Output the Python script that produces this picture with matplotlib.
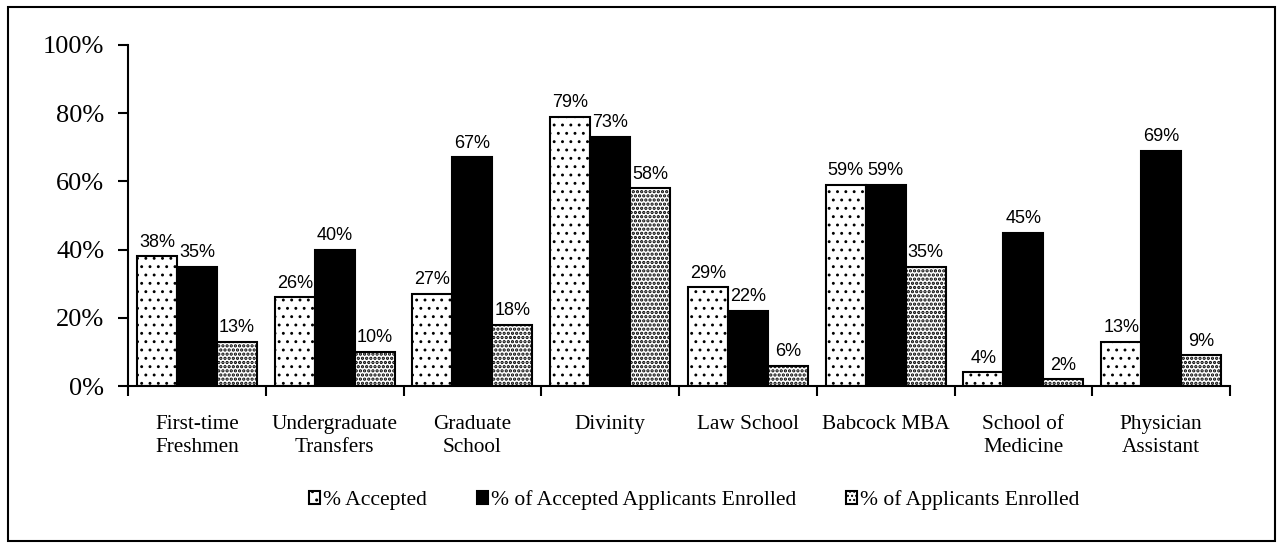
import matplotlib as mpl
import matplotlib.pyplot as plt
import numpy as np
from matplotlib.patches import Rectangle

categories = ['First-time\nFreshmen', 'Undergraduate\nTransfers', 'Graduate\nSchool', 'Divinity',
              'Law School', 'Babcock MBA', 'School of\nMedicine', 'Physician\nAssistant']
accepted = [38, 26, 27, 79, 29, 59, 4, 13]
accepted_enrolled = [35, 40, 67, 73, 22, 59, 45, 69]
applicants_enrolled = [13, 10, 18, 58, 6, 35, 2, 9]

serif = ['Liberation Serif', 'DejaVu Serif']
sans = ['Liberation Sans', 'DejaVu Sans']

fig = plt.figure(figsize=(12.83, 5.48), dpi=100)
ax = fig.add_axes([0.0998, 0.2956, 0.8589, 0.6224])

# outer border
fig.patches.append(Rectangle((0.006, 0.012), 0.988, 0.976, transform=fig.transFigure,
                             fill=False, edgecolor='black', linewidth=1.5))

x = np.arange(len(categories))
w = 0.29
with mpl.rc_context({'hatch.linewidth': 0.9}):
    b1 = ax.bar(x - w, [v / 100 for v in accepted], w, facecolor='white', edgecolor='black',
                hatch='..', linewidth=1.5, label='% Accepted')
b2 = ax.bar(x, [v / 100 for v in accepted_enrolled], w, facecolor='black', edgecolor='black',
            linewidth=1.5, label='% of Accepted Applicants Enrolled')
with mpl.rc_context({'hatch.linewidth': 1.6}):
    b3 = ax.bar(x + w, [v / 100 for v in applicants_enrolled], w, facecolor='white', edgecolor='black',
                hatch='....', linewidth=1.5, label='% of Applicants Enrolled')

for bars, vals in [(b1, accepted), (b2, accepted_enrolled), (b3, applicants_enrolled)]:
    for r, v in zip(bars, vals):
        ax.annotate(f'{v}%', (r.get_x() + r.get_width() / 2, r.get_height()),
                    textcoords='offset points', xytext=(0, 4), ha='center', va='bottom',
                    fontsize=13, family=sans)

ax.set_xlim(-0.5, 7.5)
ax.set_ylim(0, 1)
ax.set_yticks(np.arange(0, 1.01, 0.2))
ax.set_yticklabels([f'{int(round(t * 100))}%' for t in np.arange(0, 1.01, 0.2)],
                   family=serif, fontsize=19)
ax.set_xticks(x)
ax.set_xticklabels(categories, family=serif, fontsize=15.3, linespacing=1.25)
ax.set_xticks(np.arange(-0.5, 8, 1), minor=True)
ax.tick_params(axis='x', which='major', length=0, pad=21)
ax.tick_params(axis='x', which='minor', length=7, width=1.5, direction='out')
ax.tick_params(axis='y', length=7, width=1.5, direction='out', pad=10)

for s in ['top', 'right']:
    ax.spines[s].set_visible(False)
for s in ['left', 'bottom']:
    ax.spines[s].set_linewidth(1.5)

ax.legend(loc='center', bbox_to_anchor=(0.514, -0.335), ncol=3, frameon=False,
          prop={'family': serif, 'size': 15.6}, handlelength=0.5, handleheight=0.5,
          handletextpad=0.15, columnspacing=2.3)

fig.savefig('out.png', dpi=100)
